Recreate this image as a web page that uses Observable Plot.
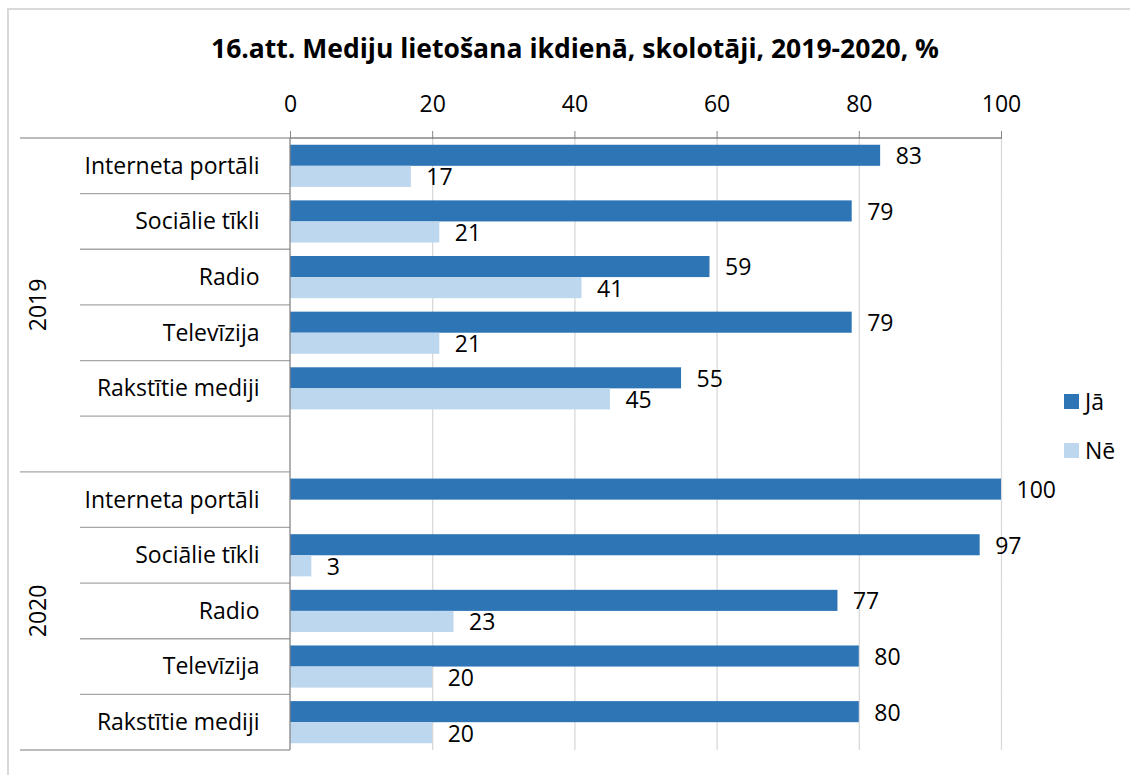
<!DOCTYPE html>
<html><head><meta charset="utf-8">
<script src="https://cdn.jsdelivr.net/npm/d3@7"></script>
<script src="https://cdn.jsdelivr.net/npm/@observablehq/plot@0.6"></script>
<style>
body{margin:0;background:#fff;font-family:"Open Sans", sans-serif;}
#wrap{position:relative;width:1130px;height:775px;overflow:hidden;background:#fff;}
#frame{position:absolute;left:7px;top:8px;width:1200px;height:900px;border:2px solid #d9d9d9;box-sizing:border-box;}
#title{position:absolute;left:0;top:30px;width:1150px;text-align:center;font-weight:bold;font-size:26.5px;color:#000;}
#chart{position:absolute;left:0;top:0;}
.leg{position:absolute;left:1064px;font-size:23px;color:#000;display:flex;align-items:center;height:30px;}
.leg span.sw{display:inline-block;width:15px;height:15px;margin-right:6px;}
</style></head>
<body>
<div id="wrap">
  <div id="frame"></div>
  <div id="chart"></div>
  <div id="title">16.att. Mediju lietošana ikdienā, skolotāji, 2019-2020, %</div>
  <div id="legend"></div>
</div>
<script>
const years = ["2019", "2020"];
const categories = ["Interneta portāli", "Sociālie tīkli", "Radio", "Televīzija", "Rakstītie mediji"];
const series = ["Jā", "Nē"];
const ja2019 = [83, 79, 59, 79, 55];
const ne2019 = [17, 21, 41, 21, 45];
const ja2020 = [100, 97, 77, 80, 80];
const ne2020 = [null, 3, 23, 20, 20];
const xTicks = [0, 20, 40, 60, 80, 100];
const colors = ["#2E75B6", "#BDD7EE"];

const rowKeys = [
  ...categories.map(c => "2019|" + c), "2019|",
  ...categories.map(c => "2020|" + c)
];
const data = [];
categories.forEach((c, i) => {
  data.push({row: "2019|" + c, series: "Jā", value: ja2019[i]});
  data.push({row: "2019|" + c, series: "Nē", value: ne2019[i]});
});
data.push({row: "2019|", series: "Jā", value: null}); // the blank spacer row between the years
categories.forEach((c, i) => {
  data.push({row: "2020|" + c, series: "Jā", value: ja2020[i]});
  data.push({row: "2020|" + c, series: "Nē", value: ne2020[i]});
});
const shown = data.filter(d => d.value != null);

const font = "'Open Sans', sans-serif";
const plot = Plot.plot({
  width: 1130, height: 775,
  marginTop: 138, marginBottom: 25, marginLeft: 290, marginRight: 129,
  style: {fontFamily: font, fontSize: "23px", color: "#000", background: "transparent", overflow: "visible"},
  x: {domain: [0, 100], label: null},
  fy: {domain: rowKeys, padding: 0, round: false, label: null},
  y: {domain: series, paddingInner: 0, paddingOuter: 0.32, align: 0.5, round: false, axis: null},
  color: {domain: series, range: colors},
  marks: [
    Plot.ruleX(xTicks.slice(1), {stroke: "#d9d9d9", strokeWidth: 1.3}),
    Plot.barX(data, {fy: "row", y: "series", x1: 0, x2: "value", fill: "series"}),
    Plot.text(shown, {fy: "row", y: "series", x: "value", text: d => String(d.value), textAnchor: "start", dx: 15, dy: 1, fontSize: 23, fill: "#000"}),
    Plot.axisX({anchor: "top", ticks: xTicks, tickSize: 8, tickPadding: 19, color: "#000", stroke: "#868686", fontSize: 23, label: null}),
    Plot.axisFy({anchor: "left", tickSize: 0, tickPadding: 31, fontSize: 23, color: "#000", label: null, tickFormat: k => k.split("|")[1]})
  ]
});
document.getElementById("chart").appendChild(plot);

// structural lines and year labels, positioned through the plot's scales
const fy = plot.scale("fy");
const xs = plot.scale("x");
const svg = d3.select(plot);
const g = svg.append("g");
const x0 = xs.apply(0);
const rowTop = k => fy.apply(k);
const bottom = fy.apply(rowKeys[rowKeys.length - 1]) + fy.bandwidth;
const sepStroke = "#a6a6a6";
rowKeys.forEach((k, i) => {
  const isGroupStart = (i === 0 || k === "2020|" + categories[0]);
  g.append("line").attr("x1", isGroupStart ? 20 : 80).attr("x2", x0)
    .attr("y1", rowTop(k)).attr("y2", rowTop(k)).attr("stroke", sepStroke).attr("stroke-width", 1.3);
});
g.append("line").attr("x1", 20).attr("x2", x0).attr("y1", bottom).attr("y2", bottom).attr("stroke", sepStroke).attr("stroke-width", 1.3);
// axis lines
g.append("line").attr("x1", x0).attr("x2", x0).attr("y1", rowTop(rowKeys[0])).attr("y2", bottom).attr("stroke", "#868686").attr("stroke-width", 1.3);
g.append("line").attr("x1", x0).attr("x2", xs.apply(100)).attr("y1", rowTop(rowKeys[0])).attr("y2", rowTop(rowKeys[0])).attr("stroke", "#868686").attr("stroke-width", 1.3);
// year labels
const groupRows = years.map(y => rowKeys.filter(k => k.startsWith(y + "|")));
years.forEach((yr, j) => {
  const rows = groupRows[j];
  const top = rowTop(rows[0]);
  const bot = rowTop(rows[rows.length - 1]) + fy.bandwidth;
  const cy = (top + bot) / 2;
  g.append("text").attr("transform", `translate(37,${cy}) rotate(-90)`)
    .attr("text-anchor", "middle").attr("dominant-baseline", "central")
    .attr("font-family", font).attr("font-size", 23).attr("fill", "#000").text(yr);
});

// legend
const leg = document.getElementById("legend");
series.forEach((s, i) => {
  const d = document.createElement("div");
  d.className = "leg";
  d.style.top = (386 + i * 49) + "px";
  d.innerHTML = `<span class="sw" style="background:${colors[i]}"></span>${s}`;
  leg.appendChild(d);
});
</script>
</body></html>
